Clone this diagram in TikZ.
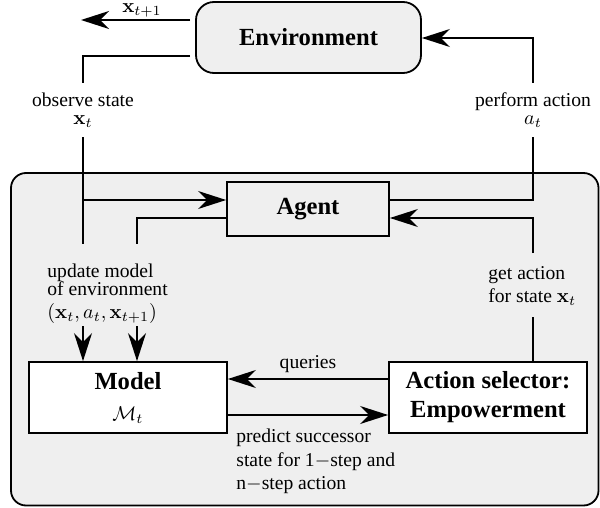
\documentclass[tikz,border=0pt]{standalone}
\usepackage{amsmath}
\usepackage[no-math]{fontspec}
\setmainfont{Liberation Serif}
\usetikzlibrary{positioning, arrows.meta}

\definecolor{panelgray}{RGB}{239,239,239}

\tikzset{
  wire/.style={line width=0.9pt},
  arr/.style={wire, -{Stealth[length=14pt, width=9pt, inset=4.5pt]}},
  block/.style={draw, line width=0.9pt, fill=white, align=center, inner sep=0pt,
    font=\fontsize{12.3}{14.5}\selectfont\bfseries},
  lbl/.style={font=\fontsize{9.8}{11.8}\selectfont, inner sep=0pt},
}

\begin{document}
\begin{tikzpicture}[x=0.5pt, y=-0.5pt]
  \useasboundingbox (0,0) rectangle (600,508);

  % agent area
  \draw[wire, fill=panelgray, rounded corners=7.5pt] (11,173) rectangle (598.5,505.5);

  % blocks
  \node[block, fill=panelgray, rounded corners=9pt, minimum width=112.5pt, minimum height=35.5pt] (env) at (308.5,37.5) {Environment};
  \node[block, fill=panelgray, minimum width=81pt, minimum height=27pt] (agent) at (308,209) {Agent};
  \node[block, minimum width=99pt, minimum height=35.5pt] (model) at (128,397.5)
    {Model\\[1pt]{\normalfont\fontsize{9.8}{11.8}\selectfont$\mathcal{M}_t$}};
  \node[block, minimum width=99pt, minimum height=35.5pt] (sel) at (488,397.5) {Action selector:\\Empowerment};

  % environment output
  \coordinate (envgap) at ([xshift=-2.5pt]env.west);
  \coordinate (xnext) at (81,20);
  \draw[arr] (envgap |- xnext) -- (xnext);
  \node[lbl, anchor=base] (xlbl) at (142,13) {$\mathbf{x}_{t+1}$};

  % observe state
  \node[lbl, align=center, minimum height=27pt] (obs) at (83,110) {observe state\\[-2.8pt]$\mathbf{x}_t$};
  \coordinate (obsturn) at (83,56);
  \draw[wire] (envgap |- obsturn) -- (obsturn) -- (obs.north);
  \draw[arr] (obs.south) |- ([yshift=4.5pt]agent.west);

  % perform action
  \node[lbl, align=center, minimum height=27pt] (act) at (533,110) {perform action\\[-2.8pt]$a_t$};
  \coordinate (actturn) at (533,38);
  \draw[arr] (act.north) -- (actturn) -- (env.east |- actturn);
  \draw[wire] ([yshift=4.5pt]agent.east) -| (act.south);

  % update model
  \node[lbl, align=left, anchor=north west] (upd) at (47,263)
    {update model\\[-2.8pt]of environment\\$(\mathbf{x}_t, a_t, \mathbf{x}_{t+1})$};
  \coordinate (upd1) at (83,244);
  \coordinate (upd2) at (137,244);
  \coordinate (mdl1) at (83,326);
  \coordinate (mdl2) at (137,326);
  \draw[wire] (obs.south) -- (upd1);
  \draw[wire] ([yshift=-4.5pt]agent.west) -| (upd2);
  \draw[arr] (mdl1) -- (mdl1 |- model.north);
  \draw[arr] (mdl2) -- (mdl2 |- model.north);

  % get action
  \node[lbl, align=left, anchor=north west] (get) at (488,266) {get action\\for state $\mathbf{x}_t$};
  \coordinate (gettop) at (533,253);
  \coordinate (getbot) at (533,317);
  \draw[wire] ([xshift=22.5pt]sel.north) -- (getbot);
  \draw[arr] (gettop) |- ([yshift=-4.5pt]agent.east);

  % model <-> action selector
  \draw[arr] ([yshift=9.25pt]sel.west) -- ([yshift=9.25pt]model.east)
    node[lbl, midway, above=2.85pt] (qlbl) {queries};
  \draw[arr] ([yshift=-8.75pt]model.east) -- ([yshift=-8.75pt]sel.west);
  \node[lbl, align=left, anchor=north west] (pred) at (236,428.5)
    {predict successor\\state for 1$-$step and\\n$-$step action};
\end{tikzpicture}
\end{document}
